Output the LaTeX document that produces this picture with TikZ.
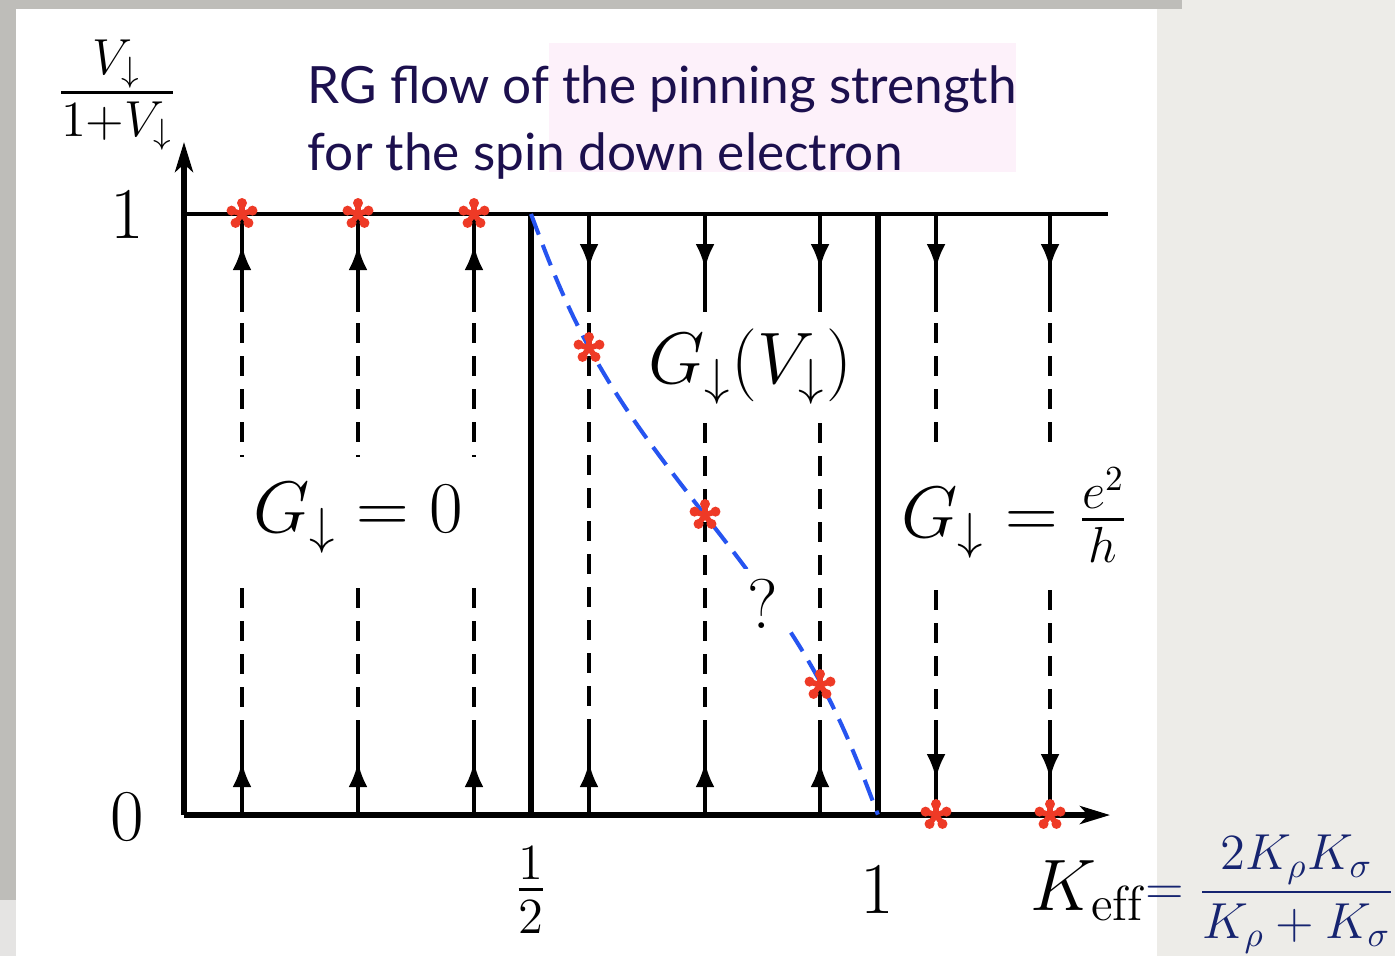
\documentclass[tikz,border=0pt]{standalone}
\usepackage{amsmath,amssymb}
\usepackage{fontspec}
\usepackage{xcolor}
\usepackage{tikz}
\usetikzlibrary{arrows.meta, positioning, calc}
\newfontfamily\titlefont{Lato}
\definecolor{slidegrey}{RGB}{190,189,185}
\definecolor{slidepaper}{RGB}{237,236,232}
\definecolor{pinkhl}{RGB}{253,241,250}
\definecolor{titleink}{RGB}{28,16,78}
\definecolor{fracink}{RGB}{22,36,112}
\definecolor{fixedpt}{RGB}{238,58,38}
\definecolor{critline}{RGB}{38,84,240}

\tikzset{
  frame/.style={line width=1.45pt},
  flow/.style={line width=1.15pt},
  flowdash/.style={flow, dash pattern=on 0.2cm off 0.13cm},
  flowtip/.style={flow, -{Latex[length=0.25cm, width=0.19cm]}},
  axistip/.style={frame, -{Stealth[length=0.3cm, width=0.18cm, inset=0.08cm]}},
  biglab/.style={font=\fontsize{20}{24}\selectfont, inner sep=0pt},
  titletxt/.style={font=\titlefont\fontsize{14.6}{19}\selectfont, text=titleink, inner sep=0pt},
  fixpt/.pic={
    \foreach \a in {18,90,162,234,306}{
      \draw[fixedpt, line width=1.6pt] (0,0) -- (\a:0.11cm);
      \fill[fixedpt] (\a:0.11cm) circle (0.05cm);
    }
  },
}

\begin{document}
\begin{tikzpicture}[x=0.01cm, y=-0.01cm]
% slide background
\fill[slidepaper] (0,0) rectangle (1395,956);
\fill[slidegrey] (0,0) rectangle (1182,9);
\fill[slidegrey] (0,0) rectangle (16,900);
\fill[slidegrey!40] (0,900) rectangle (16,956);
\fill[white] (16,9) rectangle (1157,956);
\useasboundingbox (0,0) rectangle (1395,956);

% title
\fill[pinkhl] (549,43) rectangle (1016,172);
\node[titletxt, anchor=base west] (title1) at (307,103) {RG flow of the pinning strength};
\node[titletxt, anchor=base west] (title2) at ([yshift=-0.67cm]title1.base west) {for the spin down electron};

% axes and phase boundaries
\coordinate (O) at (184,815);
\draw[axistip] (O) -- (1110,815);
\draw[axistip] (O) -- (184,142);
\draw[line width=1.2pt] (184,214) -- (1108,214);
\draw[frame] (531,214) -- (531,815);
\draw[frame] (878,214) -- (878,815);

% flow lines, G=0 region
\foreach \x in {242,358,474}{
  \draw[flow] (\x,214) -- (\x,312);
  \draw[flowtip] (\x,272) -- (\x,245);
  \draw[flowdash] (\x,323) -- (\x,457);
  \draw[flowdash] (\x,588) -- (\x,720);
  \draw[flow] (\x,720) -- (\x,815);
  \draw[flowtip] (\x,789) -- (\x,762);
}
% flow lines, intermediate region
\foreach \x/\s in {589/323,705/423,820/423}{
  \draw[flow] (\x,214) -- (\x,312);
  \draw[flowtip] (\x,242) -- (\x,269);
  \draw[flowdash] (\x,\s) -- (\x,720);
  \draw[flow] (\x,720) -- (\x,815);
  \draw[flowtip] (\x,789) -- (\x,762);
}
% flow lines, G=e^2/h region
\foreach \x in {936,1050}{
  \draw[flow] (\x,214) -- (\x,312);
  \draw[flowtip] (\x,242) -- (\x,269);
  \draw[flowdash] (\x,323) -- (\x,445);
  \draw[flowdash] (\x,590) -- (\x,720);
  \draw[flow] (\x,720) -- (\x,815);
  \draw[flowtip] (\x,752) -- (\x,779);
}

% line of fixed points
\draw[critline, line width=1.15pt, dash pattern=on 0.22cm off 0.11cm]
  plot[domain=0:1, samples=80, variable=\t]
  ({531+347*(\t-0.35*sin(360*\t)/(2*pi))}, {214+601*\t});

% labels
\node[biglab] (ylab) at (117,95) {$\frac{V_\downarrow}{1+V_\downarrow}$};
\node[biglab] (yone) at (127,215) {$1$};
\node[biglab] (yzero) at (127,817) {$0$};
\node[biglab] (xhalf) at (531,890) {$\frac{1}{2}$};
\node[biglab] (xone) at (877,890) {$1$};
\node[biglab, anchor=base west] (keff) at (1030,910) {$K_{\mathrm{eff}}$};
\node[inner sep=0pt, text=fracink, font=\fontsize{14.4}{18}\selectfont, right=0pt of keff, yshift=-1pt] (keffdef)
  {$=\dfrac{2K_\rho K_\sigma}{K_\rho+K_\sigma}$};
\node[biglab] (gzero) at (358,518) {$G_\downarrow = 0$};
\node[biglab] (gmid) at (750,367) {$G_\downarrow(V_\downarrow)$};
\node[biglab] (gone) at (1015,515) {$G_\downarrow = \frac{e^2}{h}$};
\node[biglab, fill=white, inner sep=3pt] (qmark) at (763,604) {?};

% fixed points
\foreach \p in {(242,214),(358,214),(474,214),(589,348),(705,515),(820,685),(936,815),(1050,815)}
  \pic at \p {fixpt};
\end{tikzpicture}
\end{document}
